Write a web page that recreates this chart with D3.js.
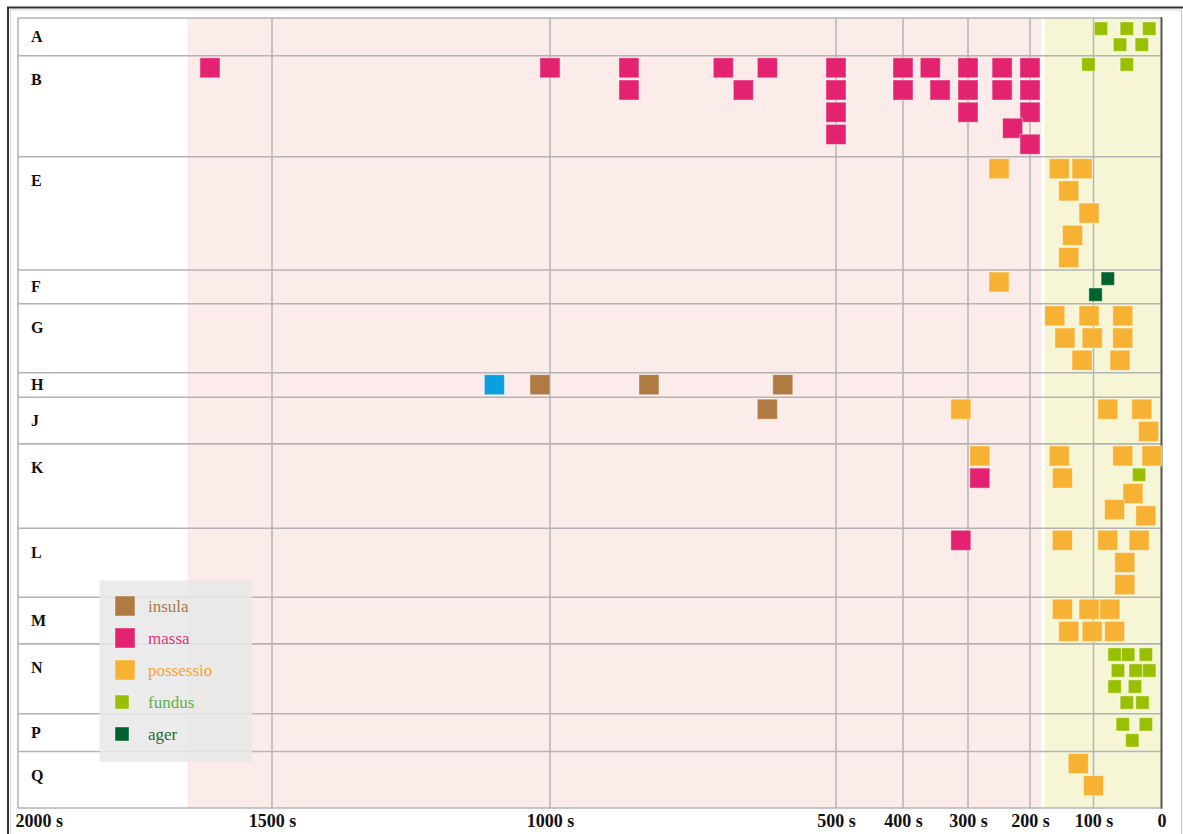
<!DOCTYPE html>
<html lang="en">
<head>
  <meta charset="UTF-8">
  <title>Attestations</title>
  <style>
    body { margin: 0; background: #fff; }
    svg { display: block; }
  </style>
</head>
<body>
  <script src="https://cdn.jsdelivr.net/npm/d3@7"></script>
  <script>
// ---- data ----
const rowNames = ['A', 'B', 'E', 'F', 'G', 'H', 'J', 'K', 'L', 'M', 'N', 'P', 'Q'];
const typeNames = ['insula', 'massa', 'possessio', 'fundus', 'ager', 'other'];
const legendTypes = ['insula', 'massa', 'possessio', 'fundus', 'ager'];

const tickValues = [2000, 1500, 1000, 500, 400, 300, 200, 100, 0];
const tickLabels = ['2000 s', '1500 s', '1000 s', '500 s', '400 s', '300 s', '200 s', '100 s', '0'];

// background periods [from, to]
const periods = [[2000, 182], [177, 0]];

// one list per row: [type, value]  (list order = placement order)
const rowA = [['fundus', 89], ['fundus', 51], ['fundus', 18], ['fundus', 61], ['fundus', 29]];
const rowB = [['massa', 1633], ['massa', 1000], ['massa', 862], ['massa', 862], ['massa', 697], ['massa', 662],
  ['massa', 620], ['massa', 500], ['massa', 500], ['massa', 500], ['massa', 500], ['massa', 400], ['massa', 400],
  ['massa', 358], ['massa', 343], ['massa', 300], ['massa', 300], ['massa', 300], ['massa', 245], ['massa', 245],
  ['massa', 200], ['massa', 200], ['massa', 200], ['massa', 228], ['massa', 200], ['fundus', 108], ['fundus', 51]];
const rowE = [['possessio', 250], ['possessio', 118], ['possessio', 139], ['possessio', 154], ['possessio', 107],
  ['possessio', 133], ['possessio', 139]];
const rowF = [['possessio', 250], ['ager', 79], ['ager', 97]];
const rowG = [['possessio', 161], ['possessio', 107], ['possessio', 57], ['possessio', 145], ['possessio', 102],
  ['possessio', 57], ['possessio', 118], ['possessio', 61]];
const rowH = [['other', 1100], ['insula', 1018], ['insula', 827], ['insula', 593]];
const rowJ = [['insula', 620], ['possessio', 311], ['possessio', 79], ['possessio', 29], ['possessio', 19]];
const rowK = [['possessio', 281], ['massa', 281], ['possessio', 154], ['possessio', 149], ['possessio', 57],
  ['fundus', 33], ['possessio', 14], ['possessio', 42], ['possessio', 69], ['possessio', 23]];
const rowL = [['massa', 311], ['possessio', 149], ['possessio', 79], ['possessio', 33], ['possessio', 54], ['possessio', 54]];
const rowM = [['possessio', 149], ['possessio', 107], ['possessio', 76], ['possessio', 139], ['possessio', 102], ['possessio', 69]];
const rowN = [['fundus', 69], ['fundus', 49], ['fundus', 23], ['fundus', 64], ['fundus', 38], ['fundus', 39],
  ['fundus', 18], ['fundus', 28], ['fundus', 51], ['fundus', 69]];
const rowP = [['fundus', 57], ['fundus', 23], ['fundus', 43]];
const rowQ = [['possessio', 124], ['possessio', 100]];
const rowFinds = [rowA, rowB, rowE, rowF, rowG, rowH, rowJ, rowK, rowL, rowM, rowN, rowP, rowQ];

// ---- styles ----
const width = 1183;
const height = 834;
const plot = { left: 18, right: 1161.5, top: 18, bottom: 808 };
const labelRight = 187.5;   // end of the white label column
const padTop = 2, padBottom = 2.5;
const gapY = 2.2, gapSmall = 2.7, padX = 0.5;
const cornerX = 3, cornerY = 4;   // big squares may clip a corner a little
const smallInset = 2;             // extra room for rows with only small squares
const eps = 1e-6;

const fill = d3.scaleOrdinal().domain(typeNames)
  .range(['#b07a43', '#e32370', '#f7b133', '#99c000', '#00622e', '#0aa0de']);
const textFill = d3.scaleOrdinal().domain(legendTypes)
  .range(['#a67b50', '#e2357a', '#f4a42e', '#5fb04a', '#1e6b3b']);
const size = d3.scaleOrdinal().domain(typeNames).range([20, 20, 20, 13.3, 13.3, 20]);
const legendSize = d3.scaleOrdinal().domain(legendTypes).range([20, 20, 20, 14, 14]);

const gridColor = '#b4b4b4';
const serif = '"Liberation Serif", "Times New Roman", serif';

// x scale (piecewise, follows the tick spacing of the original)
const x = d3.scaleLinear()
  .domain(tickValues)
  .range([38.8, 272, 550, 836, 903, 968, 1030, 1093.5, 1161.5]);

// stack the squares of a row downwards so they don't collide
function dodge(items) {
  const placed = [];
  items.forEach(d => {
    d.cx = x(d.value);
    d.s = size(d.type);
    const near = placed.map(p => {
      const big = p.s === 20 && d.s === 20;
      const xo = (p.s + d.s) / 2 - Math.abs(p.cx - d.cx) + (big ? padX : 0);
      return { p, xo, corner: big && xo > padX && xo <= cornerX + padX,
        gap: p.s < 20 && d.s < 20 ? gapSmall : gapY };
    }).filter(n => n.xo > 0);
    const cands = [0];
    near.forEach(n => {
      cands.push(n.p.y + n.p.s + n.gap);
      if (n.corner) cands.push(n.p.y + n.p.s - cornerY);
    });
    cands.sort((a, b) => a - b);
    d.y = cands.find(c => near.every(n => {
      const p = n.p;
      if (n.corner) return Math.min(c + d.s, p.y + p.s) - Math.max(c, p.y) <= cornerY + eps;
      return c + d.s + n.gap <= p.y + eps || c >= p.y + p.s + n.gap - eps;
    }));
    placed.push(d);
  });
  return placed;
}

// rows layout
let cursor = plot.top;
const rows = rowNames.map((name, i) => {
  const items = dodge(rowFinds[i].map(([type, value]) => ({ type, value })));
  const inset = items.every(d => d.s < 20) ? smallInset : 0;
  let h = padTop + inset * 2 + d3.max(items, d => d.y + d.s) + padBottom;
  if (i === rowNames.length - 1) h = Math.max(h, plot.bottom - cursor);
  const row = { name, top: cursor, h, inset, items };
  cursor += h;
  return row;
});
const bottom = cursor;

const svg = d3.select('body').append('svg')
  .attr('width', width)
  .attr('height', height);

// page frame
svg.append('line').attr('x1', 7).attr('x2', width).attr('y1', 7.5).attr('y2', 7.5)
  .attr('stroke', '#333').attr('stroke-width', 2);
svg.append('line').attr('x1', 8).attr('x2', 8).attr('y1', 7).attr('y2', height)
  .attr('stroke', '#333').attr('stroke-width', 2);
svg.append('line').attr('x1', 10).attr('x2', 1181.5).attr('y1', 10).attr('y2', 10)
  .attr('stroke', '#d8d8d8').attr('stroke-width', 1);
svg.append('line').attr('x1', 10.5).attr('x2', 10.5).attr('y1', 10).attr('y2', height)
  .attr('stroke', '#d8d8d8').attr('stroke-width', 1);
svg.append('line').attr('x1', 1181.5).attr('x2', 1181.5).attr('y1', 10).attr('y2', height)
  .attr('stroke', '#c8c8c8').attr('stroke-width', 1.2);

// period backgrounds
svg.selectAll('.period')
  .data(periods)
  .enter()
  .append('rect')
  .attr('class', 'period')
  .attr('x', d => x(d[0]))
  .attr('width', d => x(d[1]) - x(d[0]))
  .attr('y', plot.top)
  .attr('height', bottom - plot.top)
  .attr('fill', (d, i) => ['#fbece9', '#f6f6d6'][i]);

// white label column
svg.append('rect')
  .attr('x', plot.left).attr('y', plot.top)
  .attr('width', labelRight - plot.left).attr('height', bottom - plot.top)
  .attr('fill', '#fff');

// vertical grid
svg.selectAll('.vgrid')
  .data(tickValues.filter(v => v !== 0 && x(v) > labelRight))
  .enter()
  .append('line')
  .attr('class', 'vgrid')
  .attr('x1', d => x(d)).attr('x2', d => x(d))
  .attr('y1', plot.top).attr('y2', bottom)
  .attr('stroke', gridColor).attr('stroke-width', 1.5);

// row lines
svg.selectAll('.hgrid')
  .data([plot.top, ...rows.map(r => r.top + r.h)])
  .enter()
  .append('line')
  .attr('class', 'hgrid')
  .attr('x1', plot.left).attr('x2', plot.right)
  .attr('y1', d => d).attr('y2', d => d)
  .attr('stroke', gridColor).attr('stroke-width', 1.6);

svg.append('line')
  .attr('x1', plot.left).attr('x2', plot.left)
  .attr('y1', plot.top).attr('y2', bottom)
  .attr('stroke', gridColor).attr('stroke-width', 1.6);

// right edge (0)
svg.append('line')
  .attr('x1', x(0)).attr('x2', x(0))
  .attr('y1', plot.top - 0.8).attr('y2', bottom + 0.8)
  .attr('stroke', '#555').attr('stroke-width', 2);

// row labels
svg.selectAll('.row-label')
  .data(rows)
  .enter()
  .append('text')
  .attr('class', 'row-label')
  .attr('x', 31)
  .attr('y', d => d.top + Math.min(d.h / 2, 24))
  .attr('dominant-baseline', 'central')
  .attr('font-family', serif)
  .attr('font-weight', 'bold')
  .attr('font-size', 16)
  .attr('fill', '#111')
  .text(d => d.name);

// squares
const rowGroups = svg.selectAll('.row')
  .data(rows)
  .enter()
  .append('g')
  .attr('class', 'row')
  .attr('transform', d => `translate(0, ${d.top + padTop + d.inset})`);

rowGroups.selectAll('rect')
  .data(d => d.items)
  .enter()
  .append('rect')
  .attr('x', d => d.cx - d.s / 2)
  .attr('y', d => d.y)
  .attr('width', d => d.s)
  .attr('height', d => d.s)
  .attr('fill', d => fill(d.type))
  .attr('stroke', '#fff')
  .attr('stroke-opacity', 0.4)
  .attr('stroke-width', 1);

// x axis
const axis = svg.append('g')
  .attr('transform', `translate(0, ${Math.min(bottom, plot.bottom)})`)
  .call(d3.axisBottom(x)
    .tickValues(tickValues)
    .tickFormat((d, i) => tickLabels[i])
    .tickSize(0)
    .tickPadding(6));
axis.select('.domain').remove();
axis.selectAll('text')
  .attr('font-family', serif)
  .attr('font-weight', 'bold')
  .attr('font-size', 18)
  .attr('fill', '#111');

// legend
const legend = svg.append('g').attr('transform', 'translate(99.5, 580.5)');
legend.append('rect')
  .attr('width', 152.5).attr('height', 181.5)
  .attr('fill', '#e8e8e8').attr('fill-opacity', 0.86);

const item = legend.selectAll('.item')
  .data(legendTypes)
  .enter()
  .append('g')
  .attr('class', 'item')
  .attr('transform', (d, i) => `translate(0, ${25.5 + i * 32})`);

item.append('rect')
  .attr('x', 15.5)
  .attr('y', d => -legendSize(d) / 2)
  .attr('width', d => legendSize(d))
  .attr('height', d => legendSize(d))
  .attr('fill', d => fill(d))
  .attr('stroke', '#fff').attr('stroke-opacity', 0.4);

item.append('text')
  .attr('x', 48.5)
  .attr('dominant-baseline', 'central')
  .attr('font-family', serif)
  .attr('font-size', 17)
  .attr('fill', d => textFill(d))
  .text(d => d);
  </script>
</body>
</html>
